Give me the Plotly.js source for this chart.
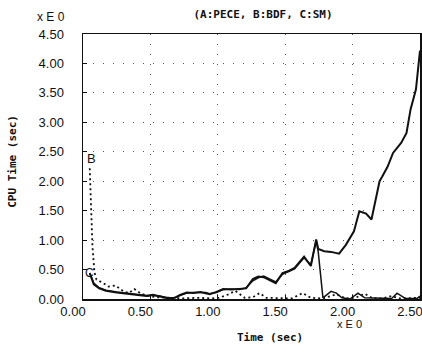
<!DOCTYPE html>
<html>
<head>
<meta charset="utf-8">
<script src="https://cdn.plot.ly/plotly-3.0.1.min.js"></script>
<style>html,body{margin:0;padding:0;background:#fff;}#chart{width:422px;height:345px;}</style>
</head>
<body>
<div id="chart"></div>
<script>
// Series A (PECE) - solid, rises steeply at the end
const tA = [0.05,0.08,0.12,0.17,0.25,0.32,0.40,0.47,0.52,0.57,0.63,0.68,0.72,0.77,0.82,0.87,0.91,0.94,0.99,1.04,1.10,1.16,1.21,1.26,1.30,1.34,1.39,1.43,1.48,1.53,1.57,1.64,1.69,1.73,1.745,1.79,1.84,1.90,1.95,2.01,2.05,2.10,2.14,2.20,2.22,2.26,2.30,2.36,2.40,2.43,2.47,2.49,2.50];
const vA = [0.44,0.25,0.18,0.14,0.11,0.09,0.07,0.05,0.07,0.04,0.01,0.02,0.07,0.11,0.10,0.12,0.10,0.08,0.12,0.17,0.16,0.17,0.18,0.34,0.38,0.37,0.32,0.27,0.44,0.48,0.53,0.72,0.56,1.01,0.85,0.81,0.80,0.77,0.92,1.15,1.49,1.45,1.35,2.00,2.08,2.25,2.48,2.65,2.82,3.22,3.56,3.95,4.22];
// Series B (BDF) - dotted
const tB = [0.05,0.07,0.085,0.10,0.15,0.19,0.24,0.30,0.34,0.38,0.43,0.49,0.55,0.65,0.75,0.85,0.95,1.01,1.08,1.13,1.20,1.26,1.31,1.36,1.45,1.55,1.63,1.69,1.78,1.88,1.95,2.02,2.09,2.15,2.22,2.29,2.35,2.45,2.50];
const vB = [2.22,0.90,0.45,0.33,0.27,0.21,0.23,0.13,0.10,0.17,0.09,0.05,0.03,0.02,0.01,0.02,0.01,0.02,0.08,0.14,0.02,0.03,0.10,0.02,0.01,0.01,0.10,0.02,0.01,0.08,0.01,0.02,0.09,0.01,0.01,0.05,0.01,0.01,0.02];
// Series C (SM) - solid, follows A then drops
const tC = [0.05,0.08,0.12,0.17,0.25,0.32,0.40,0.47,0.52,0.57,0.63,0.68,0.72,0.77,0.82,0.87,0.91,0.94,0.99,1.04,1.10,1.16,1.21,1.26,1.30,1.34,1.39,1.43,1.48,1.53,1.57,1.64,1.69,1.73,1.745,1.78,1.84,1.88,1.92,1.98,2.04,2.09,2.20,2.29,2.33,2.39,2.48,2.50];
const vC = [0.44,0.27,0.19,0.15,0.12,0.10,0.08,0.06,0.06,0.05,0.02,0.02,0.06,0.10,0.11,0.11,0.11,0.09,0.11,0.16,0.17,0.16,0.19,0.31,0.36,0.39,0.33,0.29,0.42,0.47,0.51,0.70,0.58,0.99,0.80,0.02,0.13,0.10,0.02,0.00,0.10,0.02,0.01,0.01,0.10,0.01,0.01,0.05];

const xTicks = [0, 0.5, 1.0, 1.5, 2.0, 2.5];
const xTickText = ["0.00","0.50","1.00","1.50","2.00","2.50"];
const yTicks = [0, 0.5, 1.0, 1.5, 2.0, 2.5, 3.0, 3.5, 4.0, 4.5];
const yTickText = ["0.00","0.50","1.00","1.50","2.00","2.50","3.00","3.50","4.00","4.50"];

const ink = '#111';
const traces = [
  {x: tA, y: vA, mode: 'lines', name: 'A', line: {color: ink, width: 2}},
  {x: tC, y: vC, mode: 'lines', name: 'C', line: {color: ink, width: 1.5}},
  {x: tB, y: vB, mode: 'lines', name: 'B', line: {color: ink, width: 1.8, dash: '2px,3px'}}
];

const monoFont = {family: 'DejaVu Sans Mono', size: 11, color: ink, weight: 'bold'};
const tickFont = {family: 'Liberation Sans', size: 13, color: ink};
const smallFont = {family: 'Liberation Sans', size: 12, color: ink};
const tinyFont = {family: 'Liberation Sans', size: 11, color: ink};

const layout = {
  width: 422, height: 345,
  margin: {l: 83, r: 2, t: 34, b: 45.5, pad: 0},
  paper_bgcolor: '#fff', plot_bgcolor: '#fff',
  showlegend: false,
  title: {text: '(A:PECE, B:BDF, C:SM)', font: monoFont, x: 263/422, xref: 'container', xanchor: 'center', y: 1 - 14/345, yref: 'container', yanchor: 'middle'},
  xaxis: {
    range: [0, 2.5], tickvals: xTicks, ticktext: xTickText, tickfont: tickFont,
    ticks: 'inside', ticklen: 4, tickcolor: ink,
    showline: true, mirror: true, linecolor: ink, linewidth: 1.5,
    showgrid: true, gridcolor: '#555', gridwidth: 1, griddash: '1px,9px',
    zeroline: false, ticklabelshift: -10, ticklabelstandoff: 0, ticklabeloverflow: 'allow'
  },
  yaxis: {
    range: [0, 4.5], tickvals: yTicks, ticktext: yTickText, tickfont: tickFont,
    ticks: 'inside', ticklen: 4, tickcolor: ink,
    showline: true, mirror: true, linecolor: ink, linewidth: 1.5,
    showgrid: true, gridcolor: '#555', gridwidth: 1, griddash: '1px,9px',
    zeroline: false, ticklabelstandoff: 15, ticklabeloverflow: 'allow'
  },
  annotations: [
    {text: 'x E 0', xref: 'paper', yref: 'paper', x: (51-83)/337, y: 1 + (34-20)/265.5, xanchor: 'center', yanchor: 'bottom', yshift: -6, showarrow: false, font: smallFont},
    {text: 'x E 0', xref: 'paper', yref: 'paper', x: (349-83)/337, y: -(324.5-299.5)/265.5, xanchor: 'center', yanchor: 'middle', showarrow: false, font: tinyFont},
    {text: 'Time (sec)', xref: 'paper', yref: 'paper', x: (270-83)/337, y: -(338-299.5)/265.5, xanchor: 'center', yanchor: 'middle', showarrow: false, font: monoFont},
    {text: 'CPU Time (sec)', xref: 'paper', yref: 'paper', x: (13-83)/337, y: (299.5-162)/265.5, xanchor: 'center', yanchor: 'middle', textangle: -90, showarrow: false, font: monoFont},
    {text: 'B', x: tB[0], y: vB[0], xref: 'x', yref: 'y', yshift: 10, xshift: 2, showarrow: false, font: {family: 'Liberation Sans', size: 13, color: ink}},
    {text: 'C', x: tA[0], y: vA[0], xref: 'x', yref: 'y', showarrow: false, font: {family: 'Liberation Sans', size: 12, color: ink}}
  ]
};

Plotly.newPlot('chart', traces, layout, {staticPlot: true, displayModeBar: false});
</script>
</body>
</html>
